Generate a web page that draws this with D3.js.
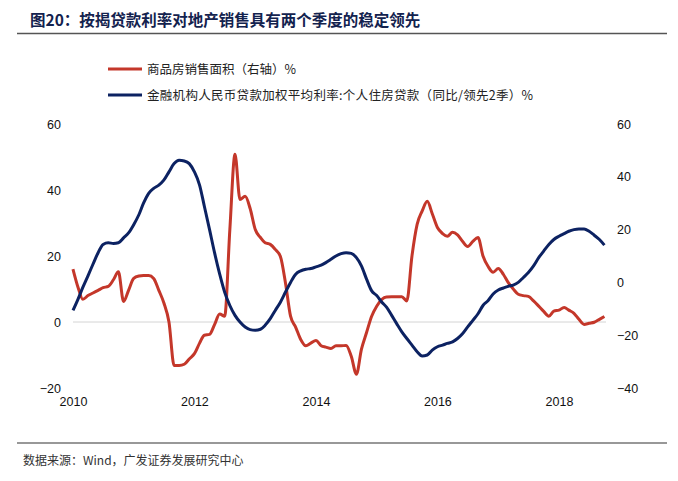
<!DOCTYPE html>
<html><head><meta charset="utf-8">
<script src="https://cdn.jsdelivr.net/npm/d3@7"></script>
<style>
body{margin:0;background:#fff;}
text{font-family:"Liberation Sans","Noto Sans CJK SC",Arial,sans-serif;}
</style></head>
<body><svg id="c" width="678" height="481"></svg>
<script>
const startDate = "2010-01";
const rateSeries = [3.5,7,10.5,14,17.5,21,23.5,24,23.8,24,25.5,27,29.5,32.5,36,39,40.5,41.5,43,45.5,48,49,48.8,48,45.5,41.5,35,28,21,14.5,9,5,2,0,-1.5,-2.3,-2.5,-2.2,-1,1,3.5,6,9,12,14.5,15.5,16,16.2,16.7,17.2,18,19,20,20.7,21,20.8,19.5,17,13,9.5,8,6,4.5,2,-0.5,-3,-5,-7,-9,-10.3,-10,-8.5,-7.5,-7,-6.5,-6,-5,-3.5,-1.5,0.5,2.5,5,6.5,8.5,9.7,10.3,10.8,11.2,12,13.5,15,17,19.5,21.5,23.5,25,26,26.8,27.5,28,28.2,28.2,27.5,26.3,25,23.3];
const salesSeries = [5,-2,-6.4,-5,-4,-3,-2,-1.5,1,4,-7.2,-3,1.5,2.4,2.6,2.6,1.5,-3,-7.7,-15,-31.5,-31.5,-31,-29,-27,-23,-20,-19.7,-16,-12,-12.8,20,48.5,31.4,32.6,28,20,17,15,14.4,12.5,9.8,0,-12.8,-17,-21.6,-24,-23,-22,-24,-24.5,-25,-24,-24,-23.9,-28,-34.8,-25.4,-19,-12.9,-9,-6.4,-5.5,-5.4,-5.4,-5.4,-7,10,22,27,30.7,26,20.8,18.5,17.5,19,18,15.5,13.6,15.5,17,10,6,3.8,5.3,3,0,-2.5,-4.5,-5,-5.3,-7,-9,-11,-12.8,-10.9,-10.5,-9.5,-10.5,-11.7,-14,-15.9,-15.5,-15.1,-14,-12.9];
const leftTicks = [60,40,20,0,-20];
const rightTicks = [60,40,20,0,-20,-40];
const xTickYears = [2010,2012,2014,2016,2018];
const titleText = "图20：按揭贷款利率对地产销售具有两个季度的稳定领先";
const legendLabels = ["商品房销售面积（右轴）%","金融机构人民币贷款加权平均利率:个人住房贷款（同比/领先2季）%"];
const sourceText = "数据来源：Wind，广发证券发展研究中心";

const svg = d3.select("#c");
const red = "#c4372a", blue = "#0c2262";
const t0 = d3.timeParse("%Y-%m")(startDate);
const dates = rateSeries.map((_, i) => d3.timeMonth.offset(t0, i));

const x = d3.scaleTime().domain([new Date(2010,0,1), new Date(2018,0,1)]).range([73, 559]);
const yL = d3.scaleLinear().domain([-20, 60]).range([388, 124]);
const yR = d3.scaleLinear().domain([-40, 60]).range([388, 124]);

// title
svg.append("text").attr("x", 30).attr("y", 26).attr("fill", "#13224e")
  .attr("font-size", 15.5).attr("font-weight", "bold")
  .style("font-family", "'Noto Sans CJK SC',sans-serif").text(titleText);
svg.append("line").attr("x1", 17).attr("x2", 667).attr("y1", 33.5).attr("y2", 33.5)
  .attr("stroke", "#555").attr("stroke-width", 1.5);

// legend
[[red, 0],[blue, 1]].forEach(([c, i]) => {
  const yy = 69 + i * 26;
  svg.append("line").attr("x1", 108).attr("x2", 142).attr("y1", yy).attr("y2", yy)
    .attr("stroke", c).attr("stroke-width", 3);
  svg.append("text").attr("x", 147).attr("y", yy + 4.5).attr("font-size", 12.5)
    .attr("fill", "#222").style("font-family", "'Noto Sans CJK SC',sans-serif")
    .style("letter-spacing", i === 1 ? "0.3px" : "0px")
    .text(legendLabels[i]);
});

// zero line
svg.append("line").attr("x1", 73).attr("x2", 606).attr("y1", yL(0)).attr("y2", yL(0))
  .attr("stroke", "#d4d4d4").attr("stroke-width", 1);

// axes
const axL = d3.axisLeft(yL).tickValues(leftTicks).tickSize(0).tickPadding(0);
svg.append("g").attr("transform", "translate(61,0)").call(axL)
  .call(g => g.select(".domain").remove())
  .selectAll("text").attr("font-size", 12.5).attr("fill", "#111").style("font-family","'Liberation Sans',Arial");
const axR = d3.axisRight(yR).tickValues(rightTicks).tickSize(0).tickPadding(0);
svg.append("g").attr("transform", "translate(617,0)").call(axR)
  .call(g => g.select(".domain").remove())
  .selectAll("text").attr("font-size", 12.5).attr("fill", "#111").style("font-family","'Liberation Sans',Arial");
const axB = d3.axisBottom(x).tickValues(xTickYears.map(y => new Date(y,0,1)))
  .tickFormat(d3.timeFormat("%Y")).tickSize(0).tickPadding(0);
svg.append("g").attr("transform", "translate(0,397)").call(axB)
  .call(g => g.select(".domain").remove())
  .selectAll("text").attr("font-size", 12.5).attr("fill", "#111").style("font-family","'Liberation Sans',Arial");

// lines
const lineR = d3.line().x((d, i) => x(dates[i])).y(d => yR(d)).curve(d3.curveMonotoneX);
const lineL = d3.line().x((d, i) => x(dates[i])).y(d => yL(d)).curve(d3.curveMonotoneX);
svg.append("path").datum(salesSeries).attr("d", lineR).attr("fill", "none")
  .attr("stroke", red).attr("stroke-width", 3).attr("stroke-linejoin", "round");
svg.append("path").datum(rateSeries).attr("d", lineL).attr("fill", "none")
  .attr("stroke", blue).attr("stroke-width", 3).attr("stroke-linejoin", "round");

// footer
svg.append("line").attr("x1", 17).attr("x2", 667).attr("y1", 443).attr("y2", 443)
  .attr("stroke", "#333").attr("stroke-width", 1.2);
svg.append("text").attr("x", 23).attr("y", 465).attr("font-size", 12).attr("fill", "#333")
  .style("font-family", "'Noto Sans CJK SC',sans-serif").text(sourceText);
</script></body></html>
